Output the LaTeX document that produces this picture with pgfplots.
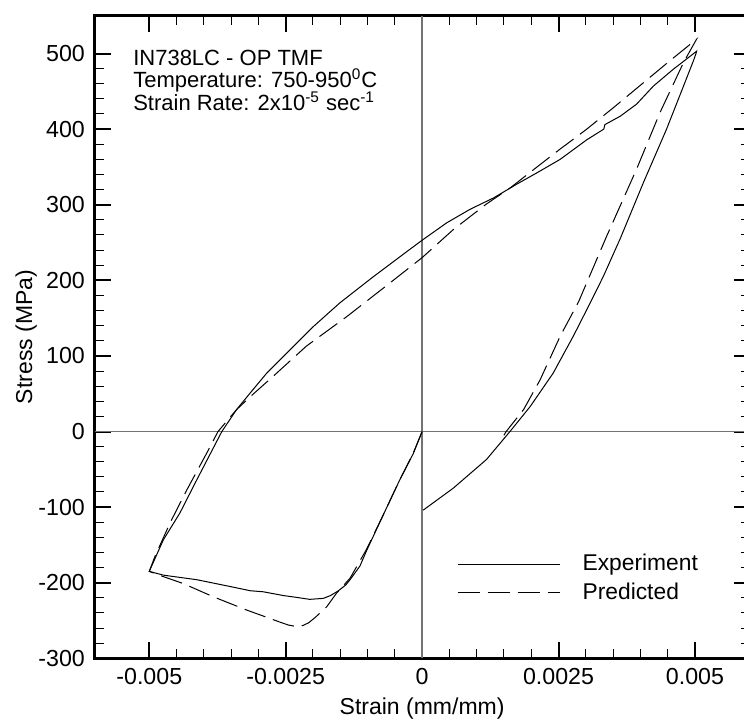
\documentclass[border=0pt]{standalone}
\usepackage{fontspec}
\setmainfont{Liberation Sans}
\usepackage{pgfplots}
\pgfplotsset{compat=1.18}
\begin{document}
\begin{tikzpicture}
\begin{axis}[
  scale only axis, width=327.4pt, height=321.3pt,
  xmin=-0.006, xmax=0.006, ymin=-300, ymax=550,
  xtick={-0.005,-0.0025,0,0.0025,0.005},
  xticklabels={-0.005,-0.0025,0,0.0025,0.005},
  scaled x ticks=false, scaled y ticks=false,
  minor x tick num=4,
  ytick={-300,-200,-100,0,100,200,300,400,500},
  yticklabels={-300,-200,-100,0,100,200,300,400,500},
  minor y tick num=4,
  tick align=inside,
  major tick length=8pt, minor tick length=4.5pt,
  every major tick/.style={line width=1pt, black},
  every minor tick/.style={line width=0.5pt, black},
  axis line style={line width=1.4pt},
  tick label style={font=\fontsize{11.6}{13}\selectfont},
  xticklabel style={anchor=north, inner sep=0pt, yshift=-4.9pt},
  yticklabel style={anchor=east, inner sep=0pt, xshift=-4.7pt},
  xlabel={Strain (mm/mm)}, ylabel={Stress (MPa)},
  every axis x label/.style={at={(axis description cs:0.5,0)}, anchor=center, yshift=-24.9pt, font=\fontsize{11.5}{13}\selectfont},
  every axis y label/.style={at={(axis description cs:-0.1046,0.5)}, rotate=90, anchor=center, font=\fontsize{11.5}{13}\selectfont},
  legend style={draw=none, fill=none, at={(axis cs:0.00064,-162.6)}, anchor=north west,
    inner sep=0pt, outer sep=0pt, row sep=4.3pt,
    font=\fontsize{11.4}{13}\selectfont,
    nodes={inner sep=0pt},
    /tikz/every odd column/.append style={column sep=11.3pt}},
  legend cell align=left,
  legend image code/.code={\draw[#1] (0pt,0pt) -- (51pt,0pt);},
]
\addplot[forget plot, color={rgb,1:red,0.45;green,0.45;blue,0.45}, line width=0.75pt] coordinates {(0,-300) (0,550)};
\addplot[forget plot, color={rgb,1:red,0.45;green,0.45;blue,0.45}, line width=0.75pt] coordinates {(-0.006,0) (0.006,0)};

% Experiment
\addplot[black, line width=0.5pt] coordinates {
(0.00002,-104) (0.00057,-75) (0.00118,-37) (0.00161,0) (0.00198,33) (0.00240,77)
(0.00277,126) (0.00308,170) (0.00332,205) (0.00363,255) (0.00406,330) (0.00448,400)
(0.00478,455) (0.00497,490) (0.00502,500) (0.00503,503)
(0.00460,479) (0.00424,457) (0.00393,433) (0.00363,417) (0.00335,406) (0.00333,400)
(0.00302,386) (0.00253,360) (0.00210,342) (0.00173,327) (0.00131,309) (0.00088,294)
(0.00045,276) (0.0,253) (-0.00028,238) (-0.00089,205) (-0.00151,170) (-0.00199,139)
(-0.00242,108) (-0.00285,77) (-0.00315,51) (-0.00340,29) (-0.00367,0) (-0.00413,-64)
(-0.00444,-108) (-0.00474,-143) (-0.00500,-185)
(-0.00474,-190) (-0.00413,-196) (-0.00352,-205) (-0.00315,-210.6) (-0.00291,-212)
(-0.00254,-217) (-0.00230,-219.4) (-0.00206,-222) (-0.00181,-220.7) (-0.00168,-217)
(-0.00154,-211) (-0.00140,-203) (-0.00132,-196) (-0.00114,-178) (-0.00102,-158) (-0.00071,-110)
(-0.00041,-64) (-0.00016,-29) (0,0)
};
\addlegendentry{Experiment}

% Predicted
\addplot[black, line width=0.5pt, dash pattern=on 11pt off 4pt] coordinates {
(0.00150,-5) (0.00154,0) (0.00186,29) (0.00216,68) (0.00253,126) (0.00287,172)
(0.00338,258) (0.00393,347) (0.00436,422) (0.00479,488) (0.00503,519)
(0.00450,488) (0.00400,458) (0.00350,428) (0.00300,399) (0.00250,372) (0.00200,344)
(0.00161,322) (0.00118,301) (0.00057,267) (0,230) (-0.00059,196.5) (-0.00138,152)
(-0.00212,113) (-0.00273,73) (-0.00315,46) (-0.00340,29) (-0.00374,0) (-0.00395,-29)
(-0.00431,-77) (-0.00462,-121) (-0.00490,-166) (-0.00500,-185)
(-0.00474,-192) (-0.00438,-201) (-0.00383,-218.5) (-0.00322,-236) (-0.00280,-247)
(-0.00261,-252) (-0.00245,-256) (-0.00230,-258) (-0.00218,-256.5) (-0.00208,-253)
(-0.00196,-246) (-0.00175,-232) (-0.00157,-214)
(-0.00132,-194) (-0.00102,-156) (-0.00071,-110) (-0.00041,-64) (-0.00016,-28) (0,0)
};
\addlegendentry{Predicted}

\node[anchor=base west, inner sep=0pt, font=\fontsize{11}{12}\selectfont] at (axis cs:-0.0053,484.8) {IN738LC - OP TMF};
\node[anchor=base west, inner sep=0pt, font=\fontsize{11}{12}\selectfont] at (axis cs:-0.0053,455.3) {Temperature: 750-950\textsuperscript{0}C};
\node[anchor=base west, inner sep=0pt, font=\fontsize{11}{12}\selectfont] at (axis cs:-0.0053,424.3) {Strain Rate: 2x10\textsuperscript{-5} sec\textsuperscript{-1}};

\coordinate (bbSW) at (axis cs:-0.0077355,-382.9);
\coordinate (bbNE) at (axis cs:0.005899,570.8);
\end{axis}
\pgfresetboundingbox
\useasboundingbox (bbSW) rectangle (bbNE);
\end{tikzpicture}
\end{document}
